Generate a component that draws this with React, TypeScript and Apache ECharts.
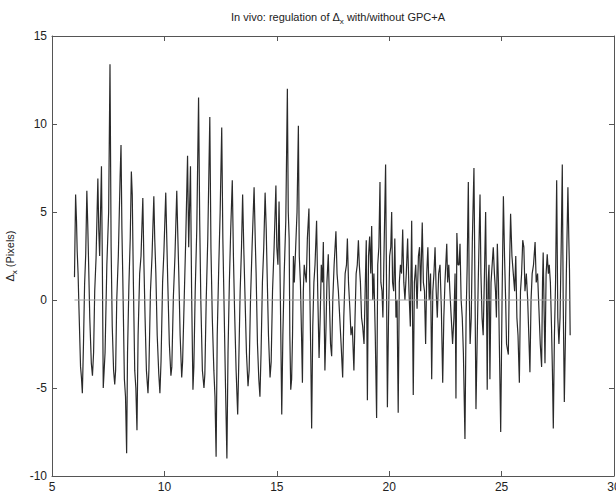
import React, { useEffect, useRef } from "react";
import * as echarts from "echarts";

const xTicks = [5, 10, 15, 20, 25, 30];
const yTicks = [-10, -5, 0, 5, 10, 15];

const signalT = [
  6.0, 6.05, 6.09, 6.12, 6.16, 6.2, 6.27, 6.31, 6.35, 6.4, 6.45, 6.5, 6.55, 6.59, 6.63, 6.68, 6.75, 6.8, 6.85, 6.9,
  6.96, 7.04, 7.08, 7.12, 7.2, 7.24, 7.28, 7.32, 7.36, 7.44, 7.52, 7.58, 7.63, 7.68, 7.74, 7.79, 7.83, 7.88, 7.95, 8.03,
  8.07, 8.11, 8.15, 8.22, 8.27, 8.32, 8.36, 8.42, 8.48, 8.53, 8.57, 8.62, 8.68, 8.73, 8.78, 8.83, 8.9, 8.96, 9.04, 9.09,
  9.14, 9.2, 9.27, 9.31, 9.38, 9.45, 9.53, 9.57, 9.62, 9.68, 9.75, 9.8, 9.85, 9.92, 9.98, 10.06, 10.1, 10.15, 10.22, 10.29,
  10.33, 10.4, 10.47, 10.55, 10.59, 10.64, 10.7, 10.77, 10.81, 10.88, 10.95, 11.03, 11.08, 11.16, 11.21, 11.27, 11.31, 11.37, 11.44, 11.52,
  11.57, 11.62, 11.69, 11.76, 11.8, 11.86, 11.93, 12.02, 12.07, 12.13, 12.2, 12.25, 12.3, 12.35, 12.42, 12.48, 12.55, 12.6, 12.65, 12.72,
  12.78, 12.83, 12.89, 12.95, 13.02, 13.07, 13.12, 13.19, 13.26, 13.31, 13.37, 13.43, 13.48, 13.53, 13.58, 13.65, 13.72, 13.77, 13.83, 13.9,
  13.99, 14.04, 14.08, 14.14, 14.2, 14.25, 14.3, 14.36, 14.42, 14.48, 14.53, 14.57, 14.63, 14.7, 14.75, 14.81, 14.88, 14.96, 15.0, 15.05,
  15.1, 15.16, 15.22, 15.27, 15.33, 15.4, 15.47, 15.51, 15.55, 15.58, 15.62, 15.66, 15.7, 15.74, 15.78, 15.84, 15.9, 15.96, 16.0, 16.05,
  16.1, 16.14, 16.18, 16.22, 16.26, 16.31, 16.36, 16.43, 16.47, 16.51, 16.55, 16.6, 16.65, 16.7, 16.77, 16.82, 16.88, 16.93, 16.98, 17.03,
  17.07, 17.1, 17.14, 17.19, 17.23, 17.29, 17.34, 17.39, 17.44, 17.49, 17.55, 17.63, 17.68, 17.74, 17.8, 17.86, 17.93, 17.98, 18.04, 18.1,
  18.14, 18.19, 18.25, 18.3, 18.36, 18.43, 18.48, 18.53, 18.58, 18.63, 18.67, 18.72, 18.77, 18.82, 18.88, 18.93, 18.98, 19.03, 19.08, 19.13,
  19.18, 19.22, 19.27, 19.32, 19.38, 19.44, 19.49, 19.54, 19.59, 19.63, 19.68, 19.72, 19.76, 19.84, 19.88, 19.92, 19.97, 20.02, 20.07, 20.11,
  20.15, 20.2, 20.25, 20.3, 20.35, 20.4, 20.45, 20.5, 20.55, 20.6, 20.65, 20.7, 20.76, 20.82, 20.88, 20.94, 21.0, 21.07, 21.12, 21.18,
  21.24, 21.3, 21.35, 21.4, 21.47, 21.52, 21.57, 21.62, 21.67, 21.72, 21.78, 21.84, 21.89, 21.94, 21.99, 22.04, 22.09, 22.14, 22.2, 22.26,
  22.32, 22.38, 22.43, 22.48, 22.56, 22.6, 22.65, 22.7, 22.76, 22.82, 22.88, 22.93, 22.97, 23.01, 23.06, 23.11, 23.15, 23.2, 23.25, 23.3,
  23.37, 23.42, 23.47, 23.52, 23.56, 23.6, 23.65, 23.7, 23.77, 23.82, 23.86, 23.91, 23.96, 24.04, 24.08, 24.13, 24.18, 24.23, 24.29, 24.33,
  24.36, 24.4, 24.44, 24.48, 24.53, 24.58, 24.63, 24.68, 24.73, 24.77, 24.81, 24.86, 24.9, 24.96, 25.02, 25.08, 25.13, 25.18, 25.22, 25.26,
  25.3, 25.34, 25.4, 25.46, 25.52, 25.58, 25.63, 25.68, 25.73, 25.79, 25.84, 25.89, 25.94, 25.99, 26.04, 26.1, 26.16, 26.21, 26.26, 26.31,
  26.36, 26.42, 26.49, 26.54, 26.6, 26.66, 26.72, 26.78, 26.82, 26.85, 26.89, 26.93, 26.98, 27.03, 27.08, 27.12, 27.17, 27.22, 27.26, 27.3,
  27.35, 27.4, 27.45, 27.5, 27.55, 27.6, 27.65, 27.7, 27.74, 27.79, 27.84, 27.88, 27.95, 27.99, 28.02, 28.05,
];

const signalY = [
  1.3, 6.0, 4.5, 2.8, 1.5, -0.5, -3.8, -4.4, -5.3, -2.5, 0.9, 2.6, 6.2, 4.3, 2.0, -1.0, -3.6, -4.3, -3.0, 0.5,
  2.4, 6.9, 4.0, 2.5, 7.6, 2.0, -5.0, -4.0, -3.0, 2.0, 5.0, 13.4, 3.0, -1.5, -4.0, -4.8, -4.0, 0.0, 2.5, 7.0,
  8.8, 4.0, 1.2, -4.5, -5.5, -8.7, -3.0, 0.8, 3.5, 7.3, 6.0, 1.0, -4.0, -5.0, -7.4, -2.0, 1.5, 2.5, 5.8, 2.0,
  -1.0, -4.0, -5.3, -4.0, 0.5, 2.5, 5.9, 3.5, 1.5, -2.0, -4.2, -5.3, -3.5, 1.0, 2.8, 6.1, 3.8, 1.0, -2.5, -4.3,
  -3.8, 0.2, 2.5, 6.2, 4.0, 1.5, -2.0, -4.4, -3.5, 0.0, 3.5, 8.2, 3.0, 7.6, 0.5, -5.1, -3.8, 0.5, 4.0, 11.5,
  4.5, 0.0, -4.0, -5.0, -4.2, 0.0, 3.5, 10.4, 3.0, -1.0, -4.0, -5.5, -8.9, -2.0, 2.0, 5.0, 9.8, 3.5, 0.0, -5.0,
  -9.0, -3.0, 1.0, 4.0, 6.8, 2.5, -0.5, -4.0, -6.5, -3.5, 0.5, 3.0, 6.0, 3.0, 0.5, -3.0, -4.9, -4.0, 0.0, 3.0,
  6.4, 3.5, 1.5, -2.5, -4.5, -5.5, -3.0, 1.0, 3.0, 6.1, 4.0, 1.5, -2.0, -4.4, -3.5, 0.5, 3.0, 6.5, 3.0, 2.0,
  5.6, 0.0, -6.5, -2.0, 1.5, 4.5, 12.0, 5.0, 3.5, -2.0, -5.1, -4.5, -2.0, 2.5, 1.0, 3.0, 5.0, 9.9, 2.5, 1.0,
  -2.0, -4.7, 0.5, 2.0, 1.5, 1.0, 3.5, 5.2, 0.5, -3.0, -7.3, -1.5, 1.0, 2.0, 4.5, 0.5, -3.3, -1.0, 2.0, 1.0,
  3.3, 0.0, -4.0, -1.5, 1.0, 2.6, 0.0, -2.5, -3.2, 0.0, 2.0, 3.9, 1.5, 0.5, -1.0, -2.5, -4.4, -1.0, 1.5, 2.0,
  3.5, 1.0, -0.5, -2.0, -1.5, -4.0, -1.0, 1.5, 2.0, 3.4, 2.0, 1.0, -1.0, -1.5, -2.5, 0.5, 3.4, -5.7, 2.5, 3.6,
  1.5, 4.2, 0.0, 1.5, -2.0, -6.7, 2.0, 3.0, 6.7, 1.0, 0.5, -1.0, 2.0, 7.7, 1.0, -6.1, -1.0, 2.5, 3.0, 5.0,
  1.0, 0.5, 3.5, -1.0, 0.0, -6.4, 1.0, 2.0, 1.5, 4.0, 1.0, 0.0, 1.5, 3.5, 0.5, -1.5, 4.5, -5.4, 1.0, 2.0,
  -0.5, 2.5, 3.0, 0.5, 4.4, 1.0, 0.5, -2.5, 1.5, 3.0, 0.0, 1.5, -4.5, 0.5, 1.5, 3.0, 0.5, -1.0, 1.5, 2.0,
  -0.5, -4.7, -1.0, 1.0, 3.2, 1.0, 2.0, 0.5, -1.0, -2.5, -1.0, 1.5, -5.6, 3.8, 2.0, 2.0, 3.2, 0.0, -1.0, -3.0,
  -7.9, -1.0, 2.0, 6.7, 0.5, -2.5, -1.0, 3.5, 7.5, 0.0, -6.2, -2.5, 1.0, 6.0, 1.5, -1.0, -2.0, 1.0, 5.0, 0.0,
  -5.1, 1.0, 2.0, -4.5, 1.0, 2.0, 3.0, 1.5, 0.5, -1.0, 3.2, 1.0, -2.5, -7.5, 0.0, 5.9, 2.5, 0.0, -2.5, -2.8,
  -3.1, 1.0, 4.9, 2.5, 1.5, 0.5, 2.5, -1.0, -2.0, -4.7, 0.5, 1.5, 3.4, 3.0, 0.5, 1.5, 0.0, -2.0, -4.1, 0.0,
  1.5, 2.0, 3.3, 1.0, 1.5, -0.5, -2.5, -3.8, 1.0, 2.7, -0.5, -3.6, 1.5, 2.6, 1.5, 2.0, 1.0, -1.5, -4.0, -7.3,
  -2.0, 1.0, 6.8, -1.0, -2.5, -1.0, 3.0, 7.7, 0.0, -5.8, -2.0, 1.5, 6.4, 3.5, 1.7, -2.0,
];

const zeroLineT = [6.0, 28.05];
const zeroLineY = [0, 0];

const FONT = "'Liberation Sans', Arial, Helvetica, sans-serif";

export default function App() {
  const ref = useRef<HTMLDivElement>(null);
  useEffect(() => {
    if (!ref.current) return;
    const chart = echarts.init(ref.current, undefined, { renderer: "svg" });
    const signal = signalT.map((t, i) => [t, signalY[i]]);
    const zero = zeroLineT.map((t, i) => [t, zeroLineY[i]]);
    const axisLineStyle = { color: "#555", width: 1 };
    const rich = {
      d: { fontFamily: FONT, fontSize: 11, color: "#222" },
      s: { fontFamily: FONT, fontSize: 8, color: "#222", padding: [9, 0, 0, 0] },
    };
    chart.setOption({
      animation: false,
      backgroundColor: "#fff",
      title: {
        text: "In vivo: regulation of {d|Δ}{s|x} with/without GPC+A",
        left: 333,
        top: 3,
        textAlign: "center",
        textStyle: { fontFamily: FONT, fontSize: 11, fontWeight: "normal", color: "#222", rich },
      },
      grid: { left: 52, right: 2, top: 36, bottom: 17, show: false, containLabel: false, outerBoundsMode: "none" },
      xAxis: [
        {
          type: "value",
          min: xTicks[0],
          max: xTicks[xTicks.length - 1],
          interval: 5,
          position: "bottom",
          axisLine: { show: true, onZero: false, lineStyle: axisLineStyle },
          axisTick: { show: true, inside: true, length: 5, lineStyle: axisLineStyle },
          axisLabel: { show: true, showMaxLabel: true, showMinLabel: true, margin: 5, fontFamily: FONT, fontSize: 12, color: "#222" },
          splitLine: { show: false },
        },
        {
          type: "value",
          min: xTicks[0],
          max: xTicks[xTicks.length - 1],
          interval: 5,
          position: "top",
          axisLine: { show: true, onZero: false, lineStyle: axisLineStyle },
          axisTick: { show: true, inside: true, length: 5, lineStyle: axisLineStyle },
          axisLabel: { show: false },
          splitLine: { show: false },
        },
      ],
      yAxis: [
        {
          type: "value",
          min: yTicks[0],
          max: yTicks[yTicks.length - 1],
          interval: 5,
          position: "left",
          name: "{d|Δ}{s|x} (Pixels)",
          nameLocation: "middle",
          nameGap: 27,
          nameRotate: 90,
          nameTextStyle: { fontFamily: FONT, fontSize: 11, color: "#222", rich },
          axisLine: { show: true, onZero: false, lineStyle: axisLineStyle },
          axisTick: { show: true, inside: true, length: 5, lineStyle: axisLineStyle },
          axisLabel: { show: true, showMaxLabel: true, showMinLabel: true, margin: 5, fontFamily: FONT, fontSize: 12, color: "#222" },
          splitLine: { show: false },
        },
        {
          type: "value",
          min: yTicks[0],
          max: yTicks[yTicks.length - 1],
          interval: 5,
          position: "right",
          axisLine: { show: true, onZero: false, lineStyle: axisLineStyle },
          axisTick: { show: true, inside: true, length: 5, lineStyle: axisLineStyle },
          axisLabel: { show: false },
          splitLine: { show: false },
        },
      ],
      series: [
        {
          type: "line",
          data: signal,
          showSymbol: false,
          symbol: "none",
          lineStyle: { color: "#2a2a2a", width: 1.2 },
          z: 2,
        },
        {
          type: "line",
          data: zero,
          showSymbol: false,
          symbol: "none",
          lineStyle: { color: "#a0a0a0", width: 1 },
          z: 3,
        },
      ],
    });
    return () => chart.dispose();
  }, []);
  return (
    <div
      ref={ref}
      style={{ position: "fixed", left: 0, top: 0, width: 616, height: 493, background: "#fff" }}
    />
  );
}
